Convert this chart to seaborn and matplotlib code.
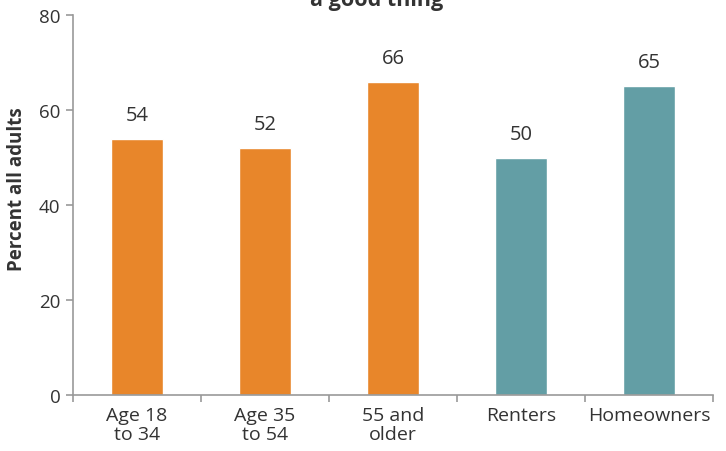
import matplotlib
matplotlib.use("Agg")
import matplotlib.pyplot as plt
import seaborn as sns
import pandas as pd

categories = ["Age 18\nto 34", "Age 35\nto 54", "55 and\nolder", "Renters", "Homeowners"]
values = [54, 52, 66, 50, 65]
groups = ["age", "age", "age", "tenure", "tenure"]
palette = {"age": "#E8862A", "tenure": "#639EA5"}
title_text = "a good thing"
ylabel_text = "Percent all adults"
yticks = [0, 20, 40, 60, 80]

sns.set_theme(style="white")
plt.rcParams["font.family"] = ["Open Sans", "DejaVu Sans"]

df = pd.DataFrame({"cat": categories, "val": values, "grp": groups})

fig = plt.figure(figsize=(7.26, 4.52), dpi=100)
ax = fig.add_axes([73/726, 1-396/452, (713-73)/726, (396-16)/452])

sns.barplot(data=df, x="cat", y="val", hue="grp", palette=palette, dodge=False,
            width=0.4, legend=False, ax=ax, saturation=1)

for i, v in enumerate(values):
    ax.annotate(f"{v}", (i, v), xytext=(0, 10), textcoords="offset points",
                ha="center", va="bottom", fontsize=14.5, color="#333333")

ax.set_ylim(0, 80)
ax.set_xlim(-0.5, len(categories) - 0.5)
ax.set_yticks(yticks)
ax.set_xlabel("")
ax.set_ylabel(ylabel_text, fontsize=13.5, fontweight="bold", color="#333333")
ax.yaxis.set_label_coords(-0.072, 0.545)

for s in ["top", "right"]:
    ax.spines[s].set_visible(False)
for s in ["left", "bottom"]:
    ax.spines[s].set_color("#999999")
    ax.spines[s].set_linewidth(1.2)

ax.tick_params(axis="y", which="major", left=True, length=5, width=1.2, color="#999999",
               labelsize=13.5, labelcolor="#333333", pad=4)
ax.set_xticks(range(len(categories)))
ax.set_xticklabels(categories)
ax.tick_params(axis="x", which="major", bottom=False, length=0, labelsize=14,
               labelcolor="#333333", pad=8)
ax.set_xticks([i - 0.5 for i in range(len(categories) + 1)], minor=True)
ax.tick_params(axis="x", which="minor", bottom=True, length=5, width=1.2, color="#999999")
for lbl in ax.get_xticklabels():
    lbl.set_linespacing(1.05)

fig.text(377/726, 1 - 6/452, title_text, ha="center", va="baseline",
         fontsize=15.5, fontweight="bold", color="#333333")

fig.savefig("out.png", dpi=100)
